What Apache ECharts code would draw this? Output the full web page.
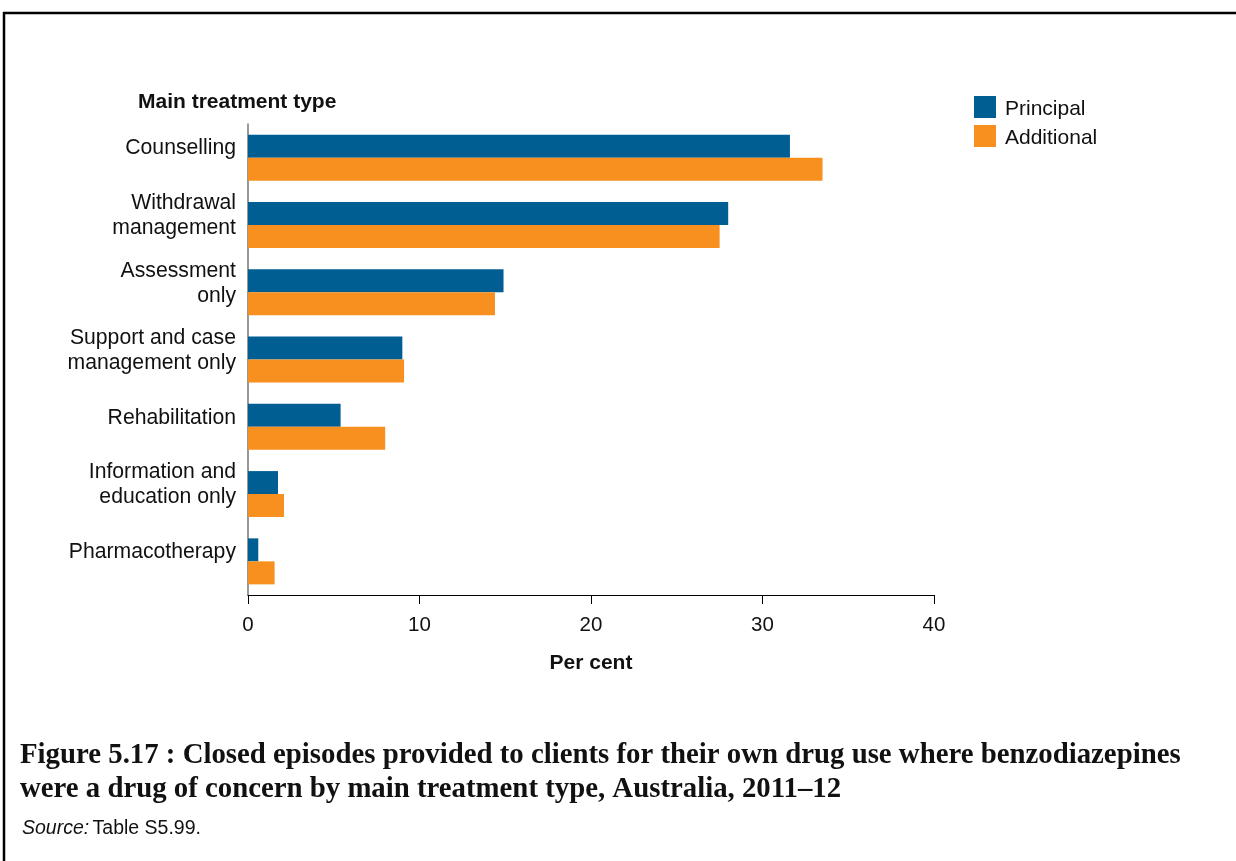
<!DOCTYPE html>
<html>
<head>
<meta charset="utf-8">
<script src="https://cdn.jsdelivr.net/npm/echarts@6/dist/echarts.min.js"></script>
<style>
html,body{margin:0;padding:0;background:#fff;}
#chart{width:1236px;height:861px;}
</style>
</head>
<body>
<div id="chart"></div>
<script>
const categories = ["Counselling", "Withdrawal\nmanagement", "Assessment\nonly", "Support and case\nmanagement only", "Rehabilitation", "Information and\neducation only", "Pharmacotherapy"];
const principal = [31.6, 28.0, 14.9, 9.0, 5.4, 1.75, 0.6];
const additional = [33.5, 27.5, 14.4, 9.1, 8.0, 2.1, 1.55];
const xTicks = [0, 10, 20, 30, 40];
const seriesNames = ["Principal", "Additional"];
const captionLine1 = "Figure 5.17 : Closed episodes provided to clients for their own drug use where benzodiazepines";
const captionLine2 = "were a drug of concern by main treatment type, Australia, 2011\u201312";

const chart = echarts.init(document.getElementById('chart'), null, {renderer: 'canvas'});
const sans = "'Liberation Sans', Arial, sans-serif";

const baseGraphics = [
  {type: 'line', shape: {x1: 3, y1: 13, x2: 1236, y2: 13}, style: {stroke: '#000', lineWidth: 2.5}},
  {type: 'line', shape: {x1: 4, y1: 12, x2: 4, y2: 861}, style: {stroke: '#000', lineWidth: 2.5}},
  {type: 'text', left: 138, top: 92, style: {text: 'Main treatment type', font: "bold 21px 'Liberation Sans', Arial, sans-serif", fill: '#111'}},
  {type: 'text', left: 20, top: 741, style: {text: captionLine1, font: "bold 28.8px 'Liberation Serif', serif", fill: '#111'}},
  {type: 'text', left: 20, top: 775, style: {text: captionLine2, font: "bold 28.8px 'Liberation Serif', serif", fill: '#111'}},
  {type: 'text', left: 22, top: 819, style: {rich: {i: {fontStyle: 'italic', fontFamily: sans, fontSize: 19.5, fill: '#111'}, n: {fontFamily: sans, fontSize: 19.5, fill: '#111'}}, text: '{i|Source:} {n|Table S5.99.}'}}
];

chart.setOption({
  backgroundColor: '#fff',
  animation: false,
  grid: {left: 248, right: 302, top: 124, bottom: 266, containLabel: false},
  legend: {
    orient: 'vertical', left: 974, top: 96, padding: 0,
    itemWidth: 22, itemHeight: 22, itemGap: 5,
    icon: 'rect',
    formatter: function (n) { return '{a|' + n + '}'; },
    textStyle: {fontFamily: sans, fontSize: 21, color: '#111', rich: {a: {fontFamily: sans, fontSize: 21, color: '#111', padding: [5, 0, 0, 4]}}},
    data: seriesNames
  },
  xAxis: {
    type: 'value', min: xTicks[0], max: xTicks[xTicks.length-1], interval: 10,
    name: 'Per cent', nameLocation: 'middle', nameGap: 58,
    nameTextStyle: {fontFamily: sans, fontSize: 21, fontWeight: 'bold', color: '#111'},
    axisLine: {show: true, lineStyle: {color: '#000', width: 1}},
    axisTick: {show: true, length: 9, lineStyle: {color: '#000'}},
    axisLabel: {fontFamily: sans, fontSize: 20.5, color: '#111', margin: 20},
    splitLine: {show: false}
  },
  yAxis: {
    type: 'category', data: categories, inverse: true,
    axisLine: {show: true, lineStyle: {color: '#777', width: 1.5}},
    axisTick: {show: false},
    axisLabel: {show: false}
  },
  series: [
    {name: seriesNames[0], type: 'bar', data: principal, itemStyle: {color: '#005E93'}, barWidth: 23, barGap: '0%', barCategoryGap: '31%'},
    {name: seriesNames[1], type: 'bar', data: additional, itemStyle: {color: '#F7901E'}, barWidth: 23, barGap: '0%', barCategoryGap: '31%'}
  ],
  graphic: baseGraphics
});

// Category labels, positioned through the category axis scale (slightly above group centre as in the original)
const labelGraphics = categories.map(function (c, i) {
  const y = chart.convertToPixel({yAxisIndex: 0}, i);
  return {
    type: 'text', x: 236, y: y - 9,
    style: {text: c, font: "21.2px 'Liberation Sans', Arial, sans-serif", fill: '#111', align: 'right', verticalAlign: 'middle', lineHeight: 25}
  };
});
chart.setOption({graphic: baseGraphics.concat(labelGraphics)});
</script>
</body>
</html>
